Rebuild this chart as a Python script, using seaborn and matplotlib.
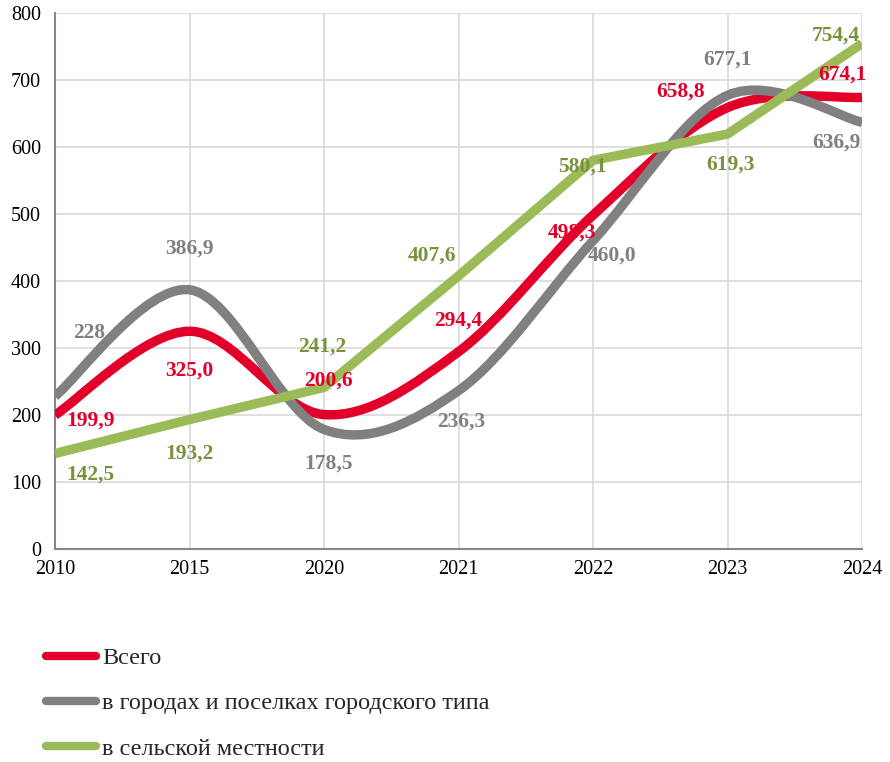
import matplotlib
matplotlib.use("Agg")
import matplotlib.pyplot as plt
from matplotlib.path import Path
from matplotlib.patches import PathPatch
from matplotlib.lines import Line2D
import numpy as np
import pandas as pd
import seaborn as sns

years = ["2010", "2015", "2020", "2021", "2022", "2023", "2024"]
total = [199.9, 325.0, 200.6, 294.4, 498.3, 658.8, 674.1]
urban = [228, 386.9, 178.5, 236.3, 460.0, 677.1, 636.9]
rural = [142.5, 193.2, 241.2, 407.6, 580.1, 619.3, 754.4]

total_labels = ["199,9", "325,0", "200,6", "294,4", "498,3", "658,8", "674,1"]
urban_labels = ["228", "386,9", "178,5", "236,3", "460,0", "677,1", "636,9"]
rural_labels = ["142,5", "193,2", "241,2", "407,6", "580,1", "619,3", "754,4"]

series_names = ["Всего", "в городах и поселках городского типа", "в сельской местности"]

RED = "#E2002A"
GRAY = "#808080"
GREEN = "#9BBB59"
GREEN_TXT = "#77933C"

sns.set_style("white")
plt.rcParams["font.family"] = ["Liberation Serif", "DejaVu Serif"]


def smooth_path(xs, ys):
    # excel-like smoothed line: catmull-rom as cubic bezier segments
    pts = np.column_stack([xs, ys]).astype(float)
    n = len(pts)
    verts = [pts[0]]
    codes = [Path.MOVETO]
    for i in range(n - 1):
        p0 = pts[i - 1] if i > 0 else pts[i]
        p1 = pts[i]
        p2 = pts[i + 1]
        p3 = pts[i + 2] if i + 2 < n else pts[i + 1]
        c1 = p1 + (p2 - p0) / 6.0
        c2 = p2 - (p3 - p1) / 6.0
        verts += [c1, c2, p2]
        codes += [Path.CURVE4] * 3
    return Path(verts, codes)


x = np.arange(len(years))
df = pd.DataFrame({"x": x, "rural": rural})

fig = plt.figure(figsize=(8.9, 7.62), dpi=100)
ax = fig.add_axes([55 / 890, 1 - 549 / 762, 807 / 890, 536 / 762])

lw = 6.8
ax.add_patch(PathPatch(smooth_path(x, total), fill=False, edgecolor=RED, lw=lw, capstyle="butt", zorder=3))
ax.add_patch(PathPatch(smooth_path(x, urban), fill=False, edgecolor=GRAY, lw=lw, capstyle="butt", zorder=4))
sns.lineplot(data=df, x="x", y="rural", ax=ax, color=GREEN, lw=lw, zorder=5)
ax.lines[-1].set_solid_capstyle("butt")

ax.set_xlim(0, 6)
ax.set_ylim(0, 800)
ax.set_xticks(x)
ax.set_xticklabels(years)
ax.set_yticks(np.arange(0, 801, 100))
ax.set_xlabel("")
ax.set_ylabel("")
ax.grid(True, color="#D9D9D9", lw=1.2)
ax.set_axisbelow(True)
for s in ["top", "right"]:
    ax.spines[s].set_visible(False)
for s in ["left", "bottom"]:
    ax.spines[s].set_color("#868686")
    ax.spines[s].set_linewidth(1.5)
ax.tick_params(axis="both", colors="#868686", length=5, width=1.5, labelsize=14.5,
               labelcolor="black", pad=3)
ax.tick_params(axis="y", pad=5)

# data labels (offsets in pixels)
total_off = [(35, -6), (0, -39), (4, 34), (0, 31), (-21, -17), (-47, 16), (-20, 23)]
urban_off = [(34, 63), (0, 41), (4, -34), (3, -31), (19, -15), (0, 36), (-26, -20)]
rural_off = [(35, -21), (0, -34), (-2, 41), (-27, 20), (-11, -6), (3, -31), (-26, 8)]

for vals, labs, offs, col in [(total, total_labels, total_off, RED),
                              (urban, urban_labels, urban_off, GRAY),
                              (rural, rural_labels, rural_off, GREEN_TXT)]:
    for i, (v, t, o) in enumerate(zip(vals, labs, offs)):
        ax.annotate(t, (i, v), xytext=o, textcoords="offset pixels", ha="center", va="center",
                    fontsize=15.5, fontweight="bold", color=col, zorder=6, annotation_clip=False)

handles = [Line2D([], [], color=c, lw=6, solid_capstyle="round") for c in (RED, GRAY, GREEN)]
fig.legend(handles, series_names, loc="upper left", bbox_to_anchor=(46 / 890, 1 - 647 / 762),
           frameon=False, fontsize=17.5, handlelength=2.06, handletextpad=0.25, labelspacing=0.96,
           borderaxespad=0, borderpad=0)

fig.savefig("out.png", dpi=100)
